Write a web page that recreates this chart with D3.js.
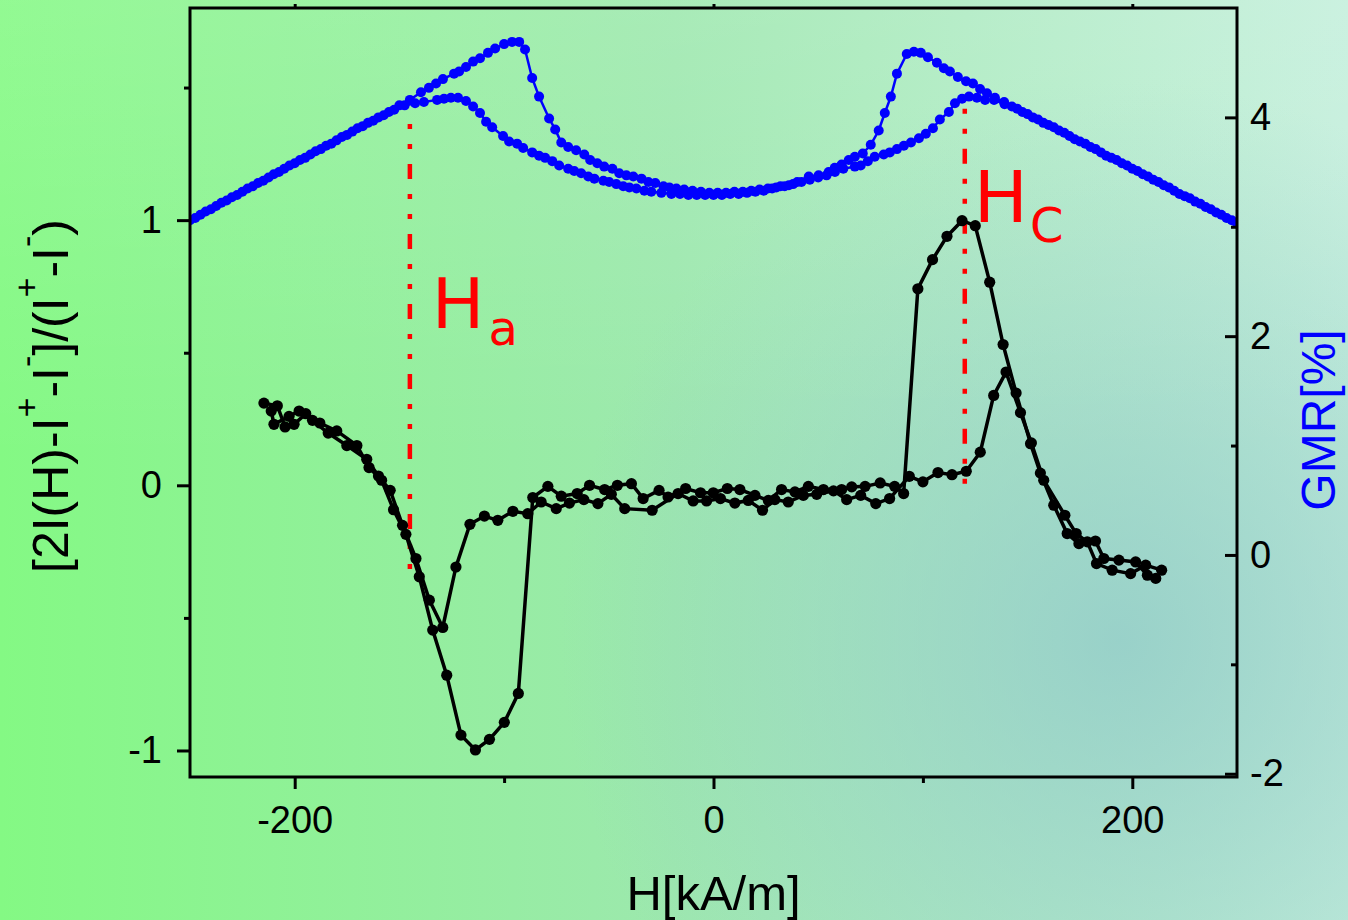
<!DOCTYPE html>
<html><head><meta charset="utf-8">
<script src="https://cdn.jsdelivr.net/npm/d3@7"></script>
<style>html,body{margin:0;padding:0;overflow:hidden;background:#fff}svg{display:block}</style>
</head><body><svg id="c" width="1348" height="920"></svg>
<script>
// ---------- data ----------
const xTicks = [-200, 0, 200];
const xMinorTicks = [-100, 100];
const leftTicks = [-1, 0, 1];
const leftMinorTicks = [-0.5, 0.5, 1.5];
const rightTicks = [-2, 0, 2, 4];
const rightMinorTicks = [-1, 1, 3];

// GMR [%] vs H [kA/m] : branch peaking at -95 and +122
const gmrA = [[-250,3.06],[-245,3.11],[-240,3.16],[-235,3.22],[-230,3.27],[-225,3.32],[-220,3.37],[-215,3.42],[-210,3.48],[-205,3.53],[-200,3.58],[-195,3.63],[-190,3.69],[-185,3.74],[-180,3.79],[-175,3.84],[-170,3.90],[-165,3.95],[-160,4.00],[-155,4.05],[-150,4.11],[-145,4.16],[-139.7,4.23],[-135.9,4.27],[-132.5,4.31],[-129.2,4.35],[-123.9,4.40],[-121.5,4.42],[-118.2,4.46],[-114.8,4.51],[-111.5,4.54],[-107.7,4.59],[-104.3,4.63],[-100,4.67],[-96.2,4.69],[-92.8,4.69],[-90,4.62],[-86.6,4.36],[-83.3,4.19],[-78.5,3.99],[-75.6,3.89],[-72.7,3.77],[-69.4,3.73],[-65.6,3.70],[-61.7,3.66],[-58.9,3.61],[-55.5,3.58],[-52.2,3.55],[-48.3,3.53],[-45,3.49],[-41.6,3.47],[-38.3,3.46],[-34.4,3.44],[-31.1,3.41],[-27.8,3.40],[-23.9,3.37],[-21.1,3.36],[-17.7,3.35],[-14,3.34],[-10,3.33],[-6,3.32],[-2,3.31],[2,3.31],[6,3.31],[10,3.32],[14,3.32],[18,3.33],[22,3.34],[26,3.35],[30,3.36],[34,3.37],[38,3.39],[42,3.41],[46,3.43],[50,3.45],[54,3.47],[58,3.50],[62,3.53],[67.5,3.55],[70.3,3.56],[73.7,3.60],[77,3.64],[81.3,3.66],[84.2,3.68],[87.6,3.71],[90.9,3.74],[94.3,3.77],[98.1,3.81],[101.4,3.85],[104.8,3.90],[108.1,3.98],[112.4,4.05],[115.3,4.13],[118.7,4.17],[122,4.19],[125.8,4.18],[129.7,4.16],[134,4.16],[139,4.12],[145,4.08],[150,4.03],[155,3.98],[160,3.93],[165,3.88],[170,3.83],[175,3.78],[180,3.73],[185,3.68],[190,3.63],[195,3.58],[200,3.53],[205,3.48],[210,3.43],[215,3.38],[220,3.33],[225,3.28],[230,3.23],[235,3.18],[240,3.13],[245,3.08],[250,3.03]];
// GMR branch peaking at -124 and +96
const gmrB = [[-247.5,3.08],[-242.5,3.14],[-237.5,3.19],[-232.5,3.24],[-227.5,3.29],[-222.5,3.35],[-217.5,3.40],[-212.5,3.45],[-207.5,3.50],[-202.5,3.56],[-197.5,3.61],[-192.5,3.66],[-187.5,3.71],[-182.5,3.76],[-177.5,3.82],[-172.5,3.87],[-167.5,3.92],[-162.5,3.97],[-157.5,4.02],[-152.5,4.07],[-147.5,4.11],[-142.5,4.13],[-138.3,4.14],[-132,4.16],[-128.7,4.17],[-125.4,4.18],[-122,4.18],[-118.2,4.15],[-114.8,4.10],[-111.5,4.04],[-108.6,3.96],[-105.7,3.91],[-100.5,3.83],[-97.6,3.78],[-93.8,3.76],[-90.9,3.72],[-86.6,3.68],[-83.3,3.65],[-80.4,3.63],[-77,3.60],[-73.7,3.56],[-69.4,3.53],[-66.5,3.51],[-63.2,3.49],[-59.8,3.46],[-56.9,3.44],[-52.6,3.42],[-49.8,3.41],[-46.4,3.39],[-43.1,3.37],[-40.2,3.36],[-36.8,3.35],[-33,3.33],[-29.7,3.32],[-24.9,3.31],[-20.1,3.30],[-16,3.30],[-12,3.29],[-8,3.29],[-4,3.29],[0,3.29],[4,3.29],[8,3.30],[12,3.30],[16,3.31],[20,3.32],[24,3.33],[28,3.35],[32,3.37],[36,3.38],[40,3.41],[45.5,3.46],[50.2,3.47],[55,3.50],[57.9,3.54],[61.2,3.57],[64.6,3.61],[67.5,3.64],[71.3,3.67],[75.1,3.75],[78.9,3.88],[81.8,4.04],[84.7,4.19],[87.6,4.40],[92.3,4.58],[95.7,4.60],[99,4.59],[102.4,4.55],[106.7,4.50],[110,4.45],[112.9,4.42],[116.7,4.37],[120.6,4.33],[123.9,4.31],[127.3,4.26],[130.6,4.22],[134.4,4.18],[138.8,4.14],[142.5,4.10],[147.5,4.05],[152.5,4.00],[157.5,3.95],[162.5,3.91],[167.5,3.86],[172.5,3.80],[177.5,3.76],[182.5,3.71],[187.5,3.65],[192.5,3.61],[197.5,3.56],[202.5,3.51],[207.5,3.46],[212.5,3.41],[217.5,3.36],[222.5,3.30],[227.5,3.26],[232.5,3.21],[237.5,3.16],[242.5,3.11],[247.5,3.06]];

// normalized response [2I(H)-I+-I-]/(I+-I-) : deep-dip / big-peak branch
const respDeep = [[-214.7,0.31],[-208.3,0.30],[-204.6,0.22],[-200.3,0.23],[-194.7,0.27],[-188,0.235],[-179.9,0.205],[-170.3,0.15],[-164.5,0.067],[-158.5,0.019],[-152.8,-0.092],[-146.9,-0.185],[-140.5,-0.345],[-134.1,-0.546],[-127.4,-0.716],[-120.6,-0.942],[-113.7,-0.998],[-107,-0.958],[-99.9,-0.894],[-93.2,-0.785],[-86.3,-0.046],[-79.1,-0.004],[-72.7,-0.041],[-65.1,-0.031],[-59.2,0],[-52,-0.016],[-45.9,0],[-39.2,0.006],[-33.6,-0.05],[-26,-0.019],[-21.7,-0.044],[-13.3,-0.012],[-6.2,-0.028],[-0.1,-0.028],[6.6,-0.012],[12.6,-0.016],[19.8,-0.038],[26.2,-0.057],[32.5,-0.016],[38.9,-0.025],[45.3,-0.004],[52.5,-0.016],[61.2,-0.016],[66,-0.006],[72.4,-0.004],[79.6,0.009],[86.5,-0.004],[90.8,-0.031],[97.6,0.741],[104.6,0.851],[111.5,0.939],[118.7,0.998],[125,0.979],[131.9,0.766],[138.3,0.531],[144.5,0.348],[151.4,0.157],[156.1,0.046],[162.5,-0.075],[168.9,-0.182],[174.5,-0.220],[182.4,-0.210],[186.4,-0.276],[193.6,-0.282],[201.6,-0.289],[207.2,-0.339],[211.2,-0.351]];
// shallow-dip / small-peak branch
const respShallow = [[-211.2,0.28],[-209.9,0.23],[-202.7,0.26],[-197.9,0.28],[-191.5,0.245],[-184,0.197],[-175.1,0.15],[-165.6,0.098],[-160,0.035],[-154.4,-0.019],[-148.5,-0.151],[-142.1,-0.276],[-135.7,-0.433],[-129.3,-0.536],[-123,-0.308],[-116.3,-0.147],[-109.4,-0.116],[-103,-0.132],[-95.8,-0.098],[-88.7,-0.107],[-82.3,-0.063],[-75.1,-0.088],[-68.8,-0.067],[-61.9,-0.054],[-55.2,-0.069],[-48.8,-0.034],[-42.4,-0.088],[-29.3,-0.094],[-16.9,-0.031],[-9.7,-0.059],[-3.3,-0.059],[3.3,-0.050],[10.2,-0.067],[16.6,-0.057],[23.4,-0.094],[29.3,-0.054],[35.7,-0.063],[42.9,-0.038],[49.3,-0.034],[57.3,-0.021],[63.6,-0.054],[70.3,-0.038],[77.5,-0.069],[84.1,-0.050],[93.5,0.034],[100,0.013],[107.2,0.048],[113.9,0.040],[120.7,0.053],[127.4,0.125],[133.8,0.339],[139.7,0.427],[146.6,0.274],[151.8,0.16],[157.7,0.019],[167.8,-0.113],[173.2,-0.182],[178.5,-0.213],[182.9,-0.295],[190.4,-0.320],[199.2,-0.333],[206.4,-0.301],[214,-0.320]];

// field markers: [H, top value, bottom value] (left-axis units)
const markerHa = [-145, 1.363, -0.328];
const markerHc = [120, 1.420, 0];

// ---------- chart ----------
const W = 1348, Hh = 920;
const m = {l:190, r:1237, t:8, b:777};
const svg = d3.select('#c');
const x = d3.scaleLinear().domain([-250, 250]).range([m.l, m.r]);
const yL = d3.scaleLinear().domain([-1.1, 1.8]).range([m.b, m.t]);
const yR = d3.scaleLinear().domain([-2.03, 5.0]).range([m.b, m.t]);

const defs = svg.append('defs');
const lg = defs.append('linearGradient').attr('id','bg').attr('x1','0').attr('y1','0').attr('x2','1').attr('y2','0');
lg.append('stop').attr('offset','0').attr('stop-color','#84f984');
lg.append('stop').attr('offset','0.5').attr('stop-color','#9de8ae');
lg.append('stop').attr('offset','1').attr('stop-color','#c4efdc');
const rg = defs.append('radialGradient').attr('id','bg2').attr('gradientUnits','userSpaceOnUse')
  .attr('cx',1120).attr('cy',640).attr('r',560);
rg.append('stop').attr('offset','0').attr('stop-color','#8fc8c8').attr('stop-opacity',0.75);
rg.append('stop').attr('offset','1').attr('stop-color','#8fc8c8').attr('stop-opacity',0);
const lg2 = defs.append('linearGradient').attr('id','bg3').attr('x1','0').attr('y1','0').attr('x2','0').attr('y2','1');
lg2.append('stop').attr('offset','0').attr('stop-color','#ffffff').attr('stop-opacity',0.12);
lg2.append('stop').attr('offset','0.5').attr('stop-color','#ffffff').attr('stop-opacity',0);
defs.append('clipPath').attr('id','clip').append('rect')
  .attr('x',m.l).attr('y',m.t).attr('width',m.r-m.l).attr('height',m.b-m.t);

svg.append('rect').attr('width',W).attr('height',Hh).attr('fill','url(#bg)');
svg.append('rect').attr('width',W).attr('height',Hh).attr('fill','url(#bg2)');
svg.append('rect').attr('width',W).attr('height',Hh).attr('fill','url(#bg3)');

const plot = svg.append('g').attr('clip-path','url(#clip)');

// red marker lines
[markerHa, markerHc].forEach(mk => {
  plot.append('line')
    .attr('x1', x(mk[0])).attr('x2', x(mk[0]))
    .attr('y1', yL(mk[1])).attr('y2', yL(mk[2]))
    .attr('stroke','#ff0000').attr('stroke-width',4.5)
    .attr('stroke-dasharray','5,15,5,15,15,15');
});

// GMR curves
const lineR = d3.line().x(d => x(d[0])).y(d => yR(d[1]));
[gmrA, gmrB].forEach(s => {
  plot.append('path').datum(s).attr('d', lineR).attr('fill','none')
    .attr('stroke','#0000ff').attr('stroke-width',2.5);
});
[gmrA, gmrB].forEach(s => {
  plot.append('g').selectAll('circle').data(s).join('circle')
    .attr('cx', d => x(d[0])).attr('cy', d => yR(d[1])).attr('r', 5).attr('fill','#0000ff');
});

// response curves
const lineL = d3.line().x(d => x(d[0])).y(d => yL(d[1]));
[respDeep, respShallow].forEach(s => {
  plot.append('path').datum(s).attr('d', lineL).attr('fill','none')
    .attr('stroke','#000').attr('stroke-width',3.5);
});
[respDeep, respShallow].forEach(s => {
  plot.append('g').selectAll('circle').data(s).join('circle')
    .attr('cx', d => x(d[0])).attr('cy', d => yL(d[1])).attr('r', 5.6).attr('fill','#000');
});

// axes
const FONT = '"Liberation Sans", Arial, sans-serif';
function styleAxis(g){
  g.selectAll('.domain').remove();
  g.selectAll('.tick line').attr('stroke','#000').attr('stroke-width',3);
  g.selectAll('.tick text').attr('fill','#000').style('font-family',FONT).style('font-size','38px');
}
svg.append('g').attr('transform',`translate(${m.l},0)`)
  .call(d3.axisLeft(yL).tickValues(leftTicks).tickSize(13).tickPadding(15).tickFormat(d => String(d))).call(styleAxis);
svg.append('g').attr('transform',`translate(${m.l},0)`)
  .call(d3.axisLeft(yL).tickValues(leftMinorTicks).tickSize(6).tickFormat('')).call(styleAxis);
svg.append('g').attr('transform',`translate(0,${m.b})`)
  .call(d3.axisBottom(x).tickValues(xTicks).tickSize(12).tickPadding(17).tickFormat(d => String(d))).call(styleAxis);
svg.append('g').attr('transform',`translate(0,${m.b})`)
  .call(d3.axisBottom(x).tickValues(xMinorTicks).tickSize(6).tickFormat('')).call(styleAxis);
svg.append('g').attr('transform',`translate(0,${m.t})`)
  .call(d3.axisTop(x).tickValues(xTicks).tickSize(4).tickFormat('')).call(styleAxis);
svg.append('g').attr('transform',`translate(${m.r},0)`)
  .call(d3.axisRight(yR).tickValues(rightTicks).tickSize(-12).tickPadding(13).tickFormat(d => String(d))).call(styleAxis);
svg.append('g').attr('transform',`translate(${m.r},0)`)
  .call(d3.axisRight(yR).tickValues(rightMinorTicks).tickSize(-6).tickFormat('')).call(styleAxis);

// frame
svg.append('rect').attr('x',m.l).attr('y',m.t).attr('width',m.r-m.l).attr('height',m.b-m.t)
  .attr('fill','none').attr('stroke','#000').attr('stroke-width',3);

// axis titles
svg.append('text').attr('x',(m.l+m.r)/2).attr('y',910).attr('text-anchor','middle')
  .style('font-family',FONT).style('font-size','49px').attr('fill','#000').text('H[kA/m]');

const lt = svg.append('text').attr('transform','translate(68,396) rotate(-90)').attr('text-anchor','middle')
  .style('font-family',FONT).style('font-size','50px').attr('fill','#000');
const parts = [['[2I(H)-I',0],['+',1],['-I',0],['-',1],[']/(I',0],['+',1],['-I',0],['-',1],[')',0]];
let sup = false;
parts.forEach(p => {
  const t = lt.append('tspan').text(p[0]);
  if (p[1] && !sup) { t.attr('dy',-30).style('font-size','34px'); sup = true; }
  else if (p[1] && sup) { t.style('font-size','34px'); }
  else if (!p[1] && sup) { t.attr('dy',30); sup = false; }
});

svg.append('text').attr('transform','translate(1335,420) rotate(-90)').attr('text-anchor','middle')
  .style('font-family',FONT).style('font-size','48px').attr('fill','#0000ff').text('GMR[%]');

// annotations
const AFONT = '"DejaVu Sans", sans-serif';
const ha = svg.append('text').attr('x', x(markerHa[0]) + 22).attr('y', 328)
  .style('font-family',AFONT).attr('fill','#ff0000');
ha.append('tspan').style('font-size','70px').text('H');
ha.append('tspan').style('font-size','48px').attr('dx',4).attr('dy',17).text('a');
const hc = svg.append('text').attr('x', x(markerHc[0]) + 9).attr('y', 222)
  .style('font-family',AFONT).attr('fill','#ff0000');
hc.append('tspan').style('font-size','72px').text('H');
hc.append('tspan').style('font-size','48px').attr('dx',2).attr('dy',20).text('C');
</script>
</body></html>
